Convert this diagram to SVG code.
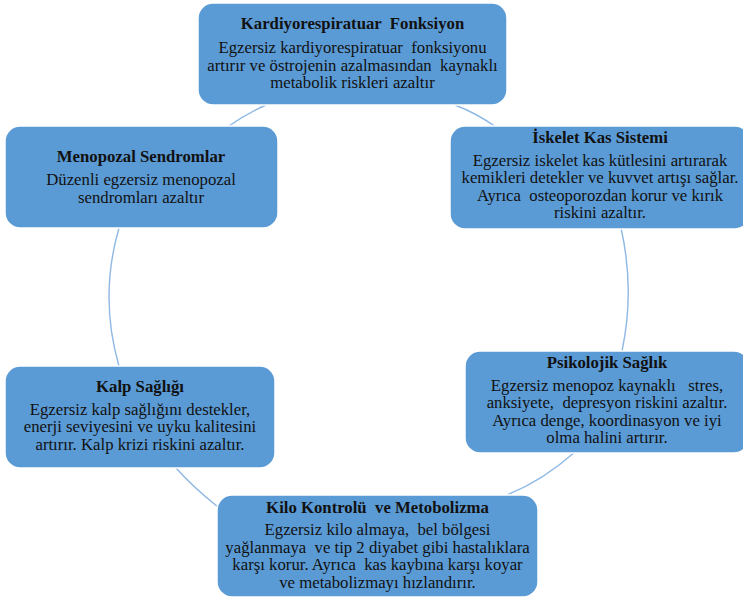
<svg xmlns="http://www.w3.org/2000/svg" width="743" height="600" viewBox="0 0 743 600">
<style>
.box{fill:#5B9BD5;stroke:#ffffff;stroke-width:1.5}
.conn{fill:none;stroke:#8EB8E5;stroke-width:1.4}
text{font-family:"Liberation Serif","Times New Roman",serif;font-size:15.8px;fill:#111;text-anchor:middle;white-space:pre}
.t{font-weight:bold}
</style>
<rect width="743" height="600" fill="#ffffff"/>
<g id="connectors">
<path class="conn" d="M229,126 Q246,114 266,105"/>
<path class="conn" d="M455,105 Q476,113 496,127"/>
<path class="conn" d="M119,228 Q99,297 119,366"/>
<path class="conn" d="M621,228 Q635,290 622,351"/>
<path class="conn" d="M175,467 Q194,488 218,507"/>
<path class="conn" d="M507,495 Q542,481 575,452"/>
</g>
<g id="node-kardiyo">
<rect class="box" x="198" y="3" width="309" height="102" rx="15"/>
<g transform="translate(352.5,0) scale(1.06,1)">
<text class="t" x="0" y="29" xml:space="preserve">Kardiyorespiratuar  Fonksiyon</text>
<text x="0" y="53" xml:space="preserve">Egzersiz kardiyorespiratuar  fonksiyonu</text>
<text x="0" y="70.8" xml:space="preserve">artırır ve östrojenin azalmasından  kaynaklı</text>
<text x="0" y="88.5">metabolik riskleri azaltır</text>
</g>
</g>
<g id="node-menopozal">
<rect class="box" x="5" y="126" width="273" height="102" rx="15"/>
<g transform="translate(141,0) scale(1.06,1)">
<text class="t" x="0" y="162">Menopozal Sendromlar</text>
<text x="0" y="185.5">Düzenli egzersiz menopozal</text>
<text x="0" y="203">sendromları azaltır</text>
</g>
</g>
<g id="node-iskelet">
<rect class="box" x="450" y="126" width="300" height="103" rx="15"/>
<g transform="translate(600,0) scale(1.06,1)">
<text class="t" x="0" y="143">İskelet Kas Sistemi</text>
<text x="0" y="166">Egzersiz iskelet kas kütlesini artırarak</text>
<text x="0" y="183.5">kemikleri detekler ve kuvvet artışı sağlar.</text>
<text x="0" y="201" xml:space="preserve">Ayrıca  osteoporozdan korur ve kırık</text>
<text x="0" y="218.5">riskini azaltır.</text>
</g>
</g>
<g id="node-kalp">
<rect class="box" x="5" y="366" width="270" height="102" rx="15"/>
<g transform="translate(140,0) scale(1.06,1)">
<text class="t" x="0" y="392">Kalp Sağlığı</text>
<text x="0" y="415">Egzersiz kalp sağlığını destekler,</text>
<text x="0" y="432.5">enerji seviyesini ve uyku kalitesini</text>
<text x="0" y="450">artırır. Kalp krizi riskini azaltır.</text>
</g>
</g>
<g id="node-psikolojik">
<rect class="box" x="465" y="351" width="284" height="102" rx="15"/>
<g transform="translate(607,0) scale(1.06,1)">
<text class="t" x="0" y="368">Psikolojik Sağlık</text>
<text x="0" y="391" xml:space="preserve">Egzersiz menopoz kaynaklı   stres,</text>
<text x="0" y="408.5" xml:space="preserve">anksiyete,  depresyon riskini azaltır.</text>
<text x="0" y="426">Ayrıca denge, koordinasyon ve iyi</text>
<text x="0" y="443.5">olma halini artırır.</text>
</g>
</g>
<g id="node-kilo">
<rect class="box" x="217" y="495" width="321" height="102" rx="15"/>
<g transform="translate(377.5,0) scale(1.06,1)">
<text class="t" x="0" y="513" xml:space="preserve">Kilo Kontrolü  ve Metobolizma</text>
<text x="0" y="535.5" xml:space="preserve">Egzersiz kilo almaya,  bel bölgesi</text>
<text x="0" y="553" xml:space="preserve">yağlanmaya  ve tip 2 diyabet gibi hastalıklara</text>
<text x="0" y="570.5" xml:space="preserve">karşı korur. Ayrıca  kas kaybına karşı koyar</text>
<text x="0" y="588">ve metabolizmayı hızlandırır.</text>
</g>
</g>
</svg>
